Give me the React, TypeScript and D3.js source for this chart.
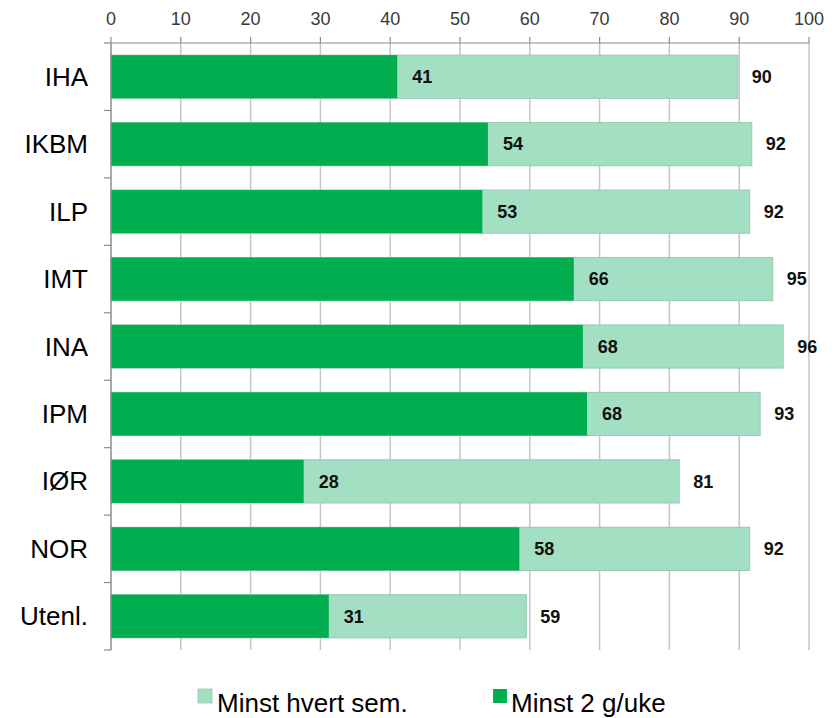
import * as d3 from "d3";

const categories = ["IHA", "IKBM", "ILP", "IMT", "INA", "IPM", "IØR", "NOR", "Utenl."];
// "Minst 2 g/uke" (dark) and "Minst hvert sem." (light, total)
const weekly = [41, 54, 53.2, 66.3, 67.6, 68.2, 27.6, 58.5, 31.2];
const semester = [89.8, 91.8, 91.5, 94.8, 96.3, 93.0, 81.4, 91.5, 59.5];
const weeklyLabels = ["41", "54", "53", "66", "68", "68", "28", "58", "31"];
const semesterLabels = ["90", "92", "92", "95", "96", "93", "81", "92", "59"];
const ticks = [0, 10, 20, 30, 40, 50, 60, 70, 80, 90, 100];

const W = 838;
const H = 718;
const font = "Arial, 'Liberation Sans', sans-serif";
const dark = "#00ad4f";
const light = "#a3dfc3";
const grid = "#c6c6c6";
const axis = "#8c8c8c";

export default function App() {
  const x = d3.scaleLinear().domain([0, 100]).range([111, 809]);
  const y = d3
    .scaleBand<string>()
    .domain(categories)
    .range([43, 650])
    .paddingInner(0.36)
    .paddingOuter(0.18);
  const step = y.step();
  const top = 43;
  const bottom = 650;

  return (
    <svg
      width={W}
      height={H}
      style={{ position: "absolute", left: 0, top: 0, background: "#fff" }}
      fontFamily={font}
    >
      {/* vertical gridlines */}
      {ticks.slice(1).map((t) => (
        <line key={"g" + t} x1={x(t)} x2={x(t)} y1={top} y2={bottom} stroke={grid} strokeWidth={1.5} />
      ))}
      {/* top axis */}
      <line x1={x(0)} x2={x(100)} y1={top} y2={top} stroke={axis} strokeWidth={1.2} />
      {ticks.map((t) => (
        <g key={"t" + t}>
          <line x1={x(t)} x2={x(t)} y1={top - 6} y2={top} stroke={axis} strokeWidth={1.2} />
          <text x={x(t)} y={25} textAnchor="middle" fontSize={18} fill="#3a3a3a">
            {t}
          </text>
        </g>
      ))}
      {/* bars */}
      {categories.map((c, i) => {
        const by = y(c)!;
        const bh = y.bandwidth();
        return (
          <g key={c}>
            <rect
              x={x(0)}
              y={by}
              width={x(semester[i]) - x(0)}
              height={bh}
              fill={light}
              stroke="#98c9b1"
              strokeWidth={1}
            />
            <rect x={x(0)} y={by} width={x(weekly[i]) - x(0)} height={bh} fill={dark} />
            <text
              x={x(weekly[i]) + 15}
              y={by + bh / 2}
              dy="0.35em"
              fontSize={18}
              fontWeight="bold"
              fill="#111"
            >
              {weeklyLabels[i]}
            </text>
            <text
              x={x(semester[i]) + 14}
              y={by + bh / 2}
              dy="0.35em"
              fontSize={18}
              fontWeight="bold"
              fill="#111"
            >
              {semesterLabels[i]}
            </text>
            <text x={88} y={by + bh / 2} dy="0.35em" textAnchor="end" fontSize={26} fill="#000">
              {c}
            </text>
          </g>
        );
      })}
      {/* left axis */}
      <line x1={x(0)} x2={x(0)} y1={top} y2={bottom} stroke={axis} strokeWidth={1.5} />
      {d3.range(categories.length + 1).map((i) => (
        <line
          key={"l" + i}
          x1={x(0) - 7}
          x2={x(0)}
          y1={top + i * step}
          y2={top + i * step}
          stroke={axis}
          strokeWidth={1.2}
        />
      ))}
      {/* legend */}
      <rect x={198} y={689} width={14} height={14} fill={light} stroke="#98c9b1" strokeWidth={0.8} />
      <text x={217} y={712} fontSize={26} fill="#000">
        Minst hvert sem.
      </text>
      <rect x={493} y={689} width={14} height={14} fill={dark} />
      <text x={511} y={712} fontSize={26} fill="#000">
        Minst 2 g/uke
      </text>
    </svg>
  );
}
